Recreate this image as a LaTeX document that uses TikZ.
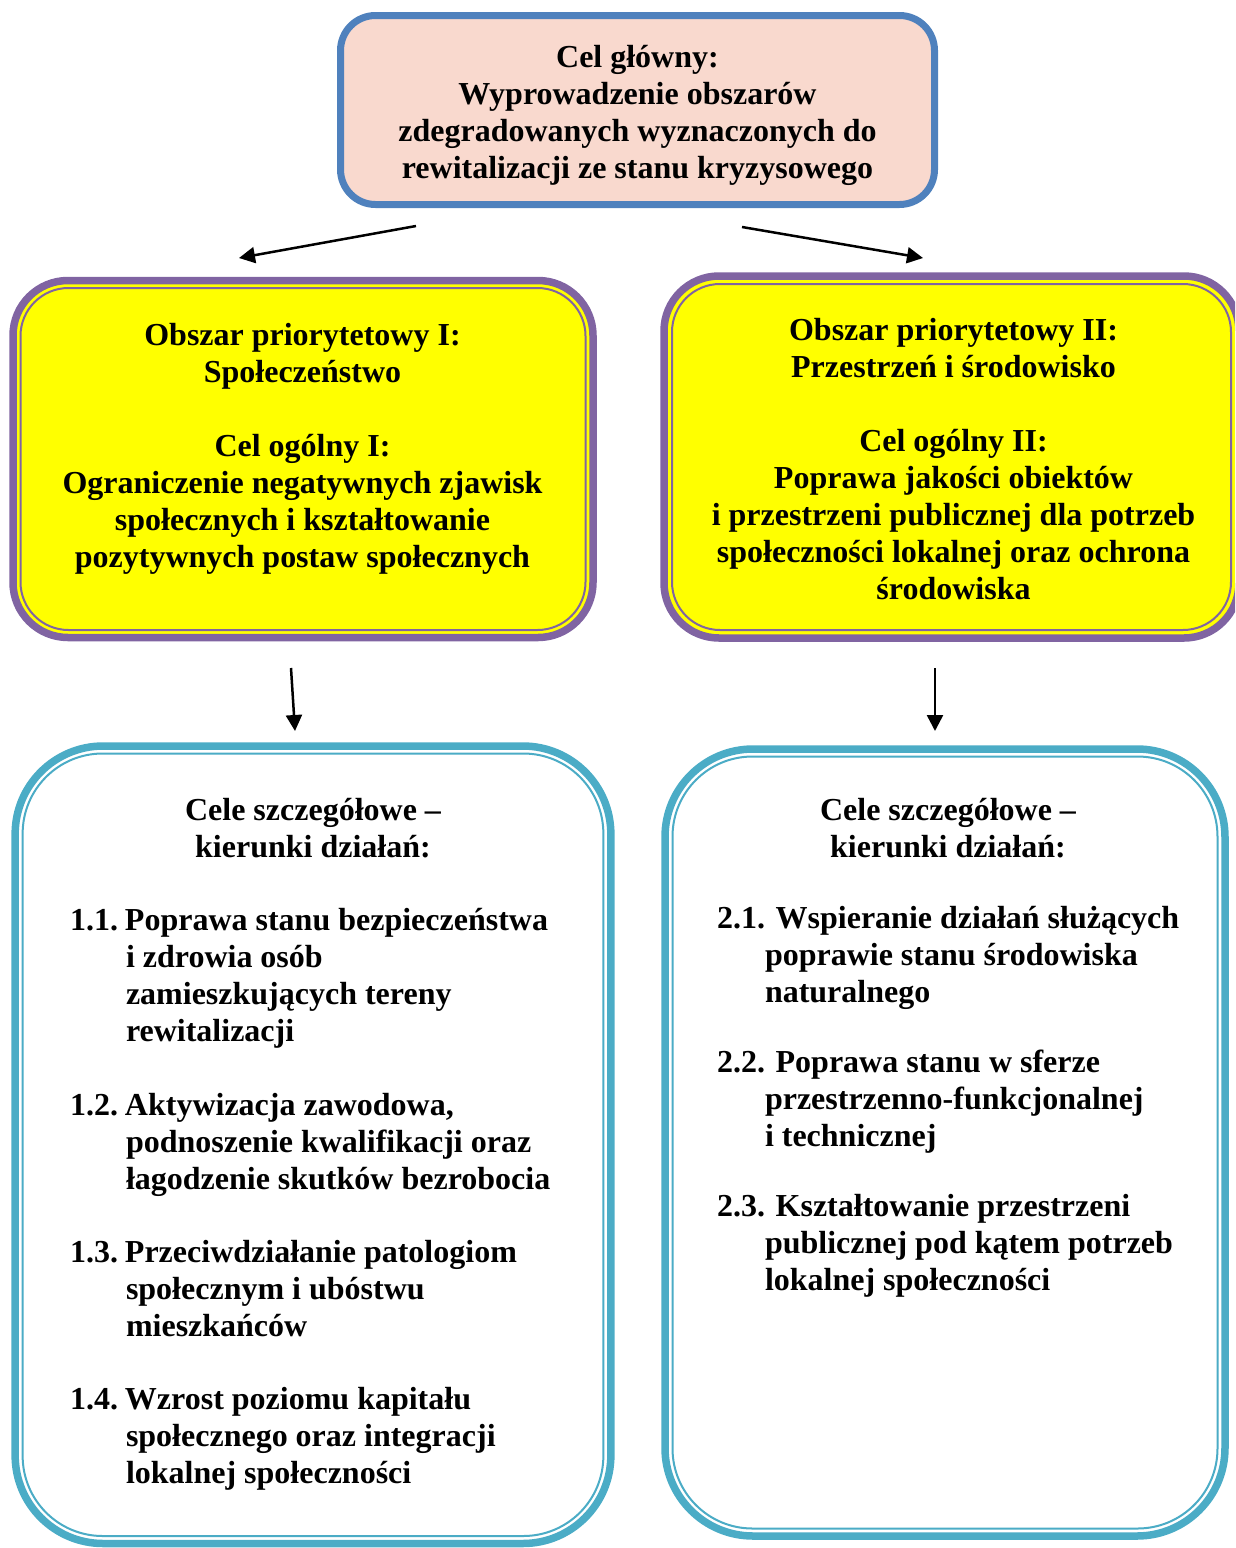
\documentclass[tikz,border=0pt]{standalone}
\usepackage{fontspec}
\setmainfont{Liberation Serif}
\usetikzlibrary{arrows.meta}
\definecolor{pinkfill}{RGB}{249,217,206}
\definecolor{mainblue}{RGB}{79,129,189}
\definecolor{violetb}{RGB}{128,100,162}
\definecolor{tealb}{RGB}{75,172,198}
\definecolor{yellowf}{RGB}{255,255,0}
\begin{document}
\begin{tikzpicture}[x=1pt,y=-1pt,
  txt/.style={inner sep=0,outer sep=0,font=\fontsize{32}{37}\selectfont\bfseries},
  box/.style={inner sep=0,outer sep=0,line width=7.5pt},
  ybox/.style={box,draw=violetb,fill=yellowf,rounded corners=55pt},
  ybin/.style={draw=violetb,line width=2pt,rounded corners=48pt},
  bbox/.style={box,draw=tealb,fill=white,rounded corners=88pt},
  bbin/.style={draw=tealb,line width=2pt,rounded corners=80pt},
  conn/.style={line width=2.5pt,-{Triangle[length=16pt,width=16pt]}},
]
\useasboundingbox (0,0) rectangle (1235,1548);
\clip (0,0) rectangle (1235,1548);

% main goal
\node[box,draw=mainblue,line width=7pt,fill=pinkfill,rounded corners=35pt,
      minimum width=594pt,minimum height=189pt] (main) at (637.5,110) {};
\node[txt,anchor=base] (maintxt) at (637.5,67) {\begin{tabular}[t]{@{}c@{}}
Cel główny:\\
Wyprowadzenie obszarów\\
zdegradowanych wyznaczonych do\\
rewitalizacji ze stanu kryzysowego\end{tabular}};

% priority areas
\node[ybox,minimum width=580pt,minimum height=357pt] (p1) at (303,459) {};
\draw[ybin] ([shift={(7.5,7.5)}]p1.north west) rectangle ([shift={(-7.5,-7.5)}]p1.south east);
\node[txt,anchor=base] (p1txt) at (302.5,345) {\begin{tabular}[t]{@{}c@{}}
Obszar priorytetowy I:\\
Społeczeństwo\\[37pt]
Cel ogólny I:\\
Ograniczenie negatywnych zjawisk\\
społecznych i kształtowanie\\
pozytywnych postaw społecznych\end{tabular}};

\node[ybox,minimum width=575pt,minimum height=362pt] (p2) at (951.5,457) {};
\draw[ybin] ([shift={(8,8)}]p2.north west) rectangle ([shift={(-8,-8)}]p2.south east);
\node[txt,anchor=base] (p2txt) at (953.5,340) {\begin{tabular}[t]{@{}c@{}}
Obszar priorytetowy II:\\
Przestrzeń i środowisko\\[37pt]
Cel ogólny II:\\
Poprawa jakości obiektów\\
i przestrzeni publicznej dla potrzeb\\
społeczności lokalnej oraz ochrona\\
środowiska\end{tabular}};

% specific goals boxes
\node[bbox,minimum width=595.7pt,minimum height=797.5pt] (s1) at (313,1144.75) {};
\draw[bbin] ([shift={(7.5,7.5)}]s1.north west) rectangle ([shift={(-7.5,-7.5)}]s1.south east);
\node[bbox,minimum width=560pt,minimum height=787pt] (s2) at (945,1142.5) {};
\draw[bbin] ([shift={(7.5,7.5)}]s2.north west) rectangle ([shift={(-7.5,-7.5)}]s2.south east);

\node[txt,anchor=base] (s1h) at (313,820) {\begin{tabular}[t]{@{}c@{}}
Cele szczegółowe –\\ kierunki działań:\end{tabular}};
\node[txt,anchor=base] (s2h) at (948,820) {\begin{tabular}[t]{@{}c@{}}
Cele szczegółowe –\\ kierunki działań:\end{tabular}};

\node[txt,anchor=base west] (i11) at (70,930) {\begin{tabular}[t]{@{}l@{}}
1.1.\hspace{7pt}Poprawa stanu bezpieczeństwa\\
\hspace*{56pt}i zdrowia osób\\
\hspace*{56pt}zamieszkujących tereny\\
\hspace*{56pt}rewitalizacji\end{tabular}};
\node[txt,anchor=base west] (i12) at (70,1115) {\begin{tabular}[t]{@{}l@{}}
1.2.\hspace{7pt}Aktywizacja zawodowa,\\
\hspace*{56pt}podnoszenie kwalifikacji oraz\\
\hspace*{56pt}łagodzenie skutków bezrobocia\end{tabular}};
\node[txt,anchor=base west] (i13) at (70,1262) {\begin{tabular}[t]{@{}l@{}}
1.3.\hspace{7pt}Przeciwdziałanie patologiom\\
\hspace*{56pt}społecznym i ubóstwu\\
\hspace*{56pt}mieszkańców\end{tabular}};
\node[txt,anchor=base west] (i14) at (70,1409) {\begin{tabular}[t]{@{}l@{}}
1.4.\hspace{7pt}Wzrost poziomu kapitału\\
\hspace*{56pt}społecznego oraz integracji\\
\hspace*{56pt}lokalnej społeczności\end{tabular}};

\node[txt,anchor=base west] (i21) at (717,928) {\begin{tabular}[t]{@{}l@{}}
2.1. Wspieranie działań służących\\
\hspace*{48pt}poprawie stanu środowiska\\
\hspace*{48pt}naturalnego\end{tabular}};
\node[txt,anchor=base west] (i22) at (717,1072) {\begin{tabular}[t]{@{}l@{}}
2.2. Poprawa stanu w sferze\\
\hspace*{48pt}przestrzenno-funkcjonalnej\\
\hspace*{48pt}i technicznej\end{tabular}};
\node[txt,anchor=base west] (i23) at (717,1216) {\begin{tabular}[t]{@{}l@{}}
2.3. Kształtowanie przestrzeni\\
\hspace*{48pt}publicznej pod kątem potrzeb\\
\hspace*{48pt}lokalnej społeczności\end{tabular}};

% connectors
\coordinate (a1s) at (416,226); \coordinate (a1e) at (239,258);
\coordinate (a2s) at (742,227); \coordinate (a2e) at (923,258);
\coordinate (a3s) at (291,668); \coordinate (a3e) at (295,731);
\coordinate (a4s) at (935,668); \coordinate (a4e) at (935,731);
\draw[conn] (a1s) -- (a1e);
\draw[conn] (a2s) -- (a2e);
\draw[conn] (a3s) -- (a3e);
\draw[conn] (a4s) -- (a4e);
\end{tikzpicture}
\end{document}
